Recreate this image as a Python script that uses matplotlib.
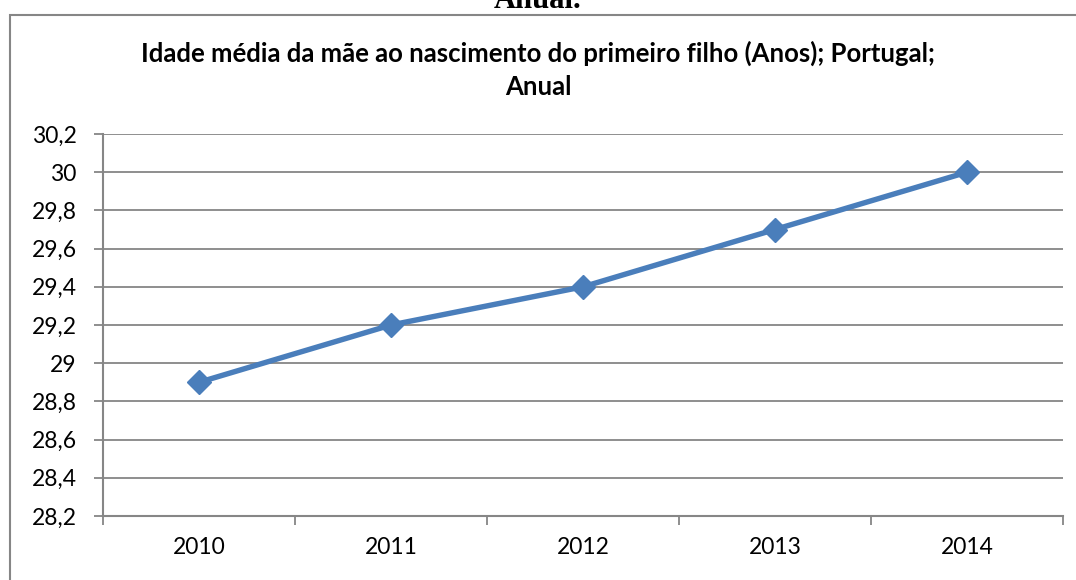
import matplotlib.pyplot as plt
from matplotlib.patches import Rectangle
from matplotlib.ticker import FuncFormatter

anos = ['2010', '2011', '2012', '2013', '2014']
idade = [28.9, 29.2, 29.4, 29.7, 30.0]
y_ticks = [28.2, 28.4, 28.6, 28.8, 29.0, 29.2, 29.4, 29.6, 29.8, 30.0, 30.2]

cinza = '#868686'
azul = '#4A7EBB'

fig = plt.figure(figsize=(10.76, 5.8), dpi=100)
ax = fig.add_axes([103 / 1076, 1 - 516 / 580, 960 / 1076, 382 / 580])

# moldura do gráfico (cortada à direita e em baixo)
fig.patches.append(Rectangle((10 / 1076, -0.05), 1.0, 1 - 15 / 580 + 0.05,
                             transform=fig.transFigure, fill=False,
                             edgecolor=cinza, lw=1.5))

# resto do título do documento, cortado no topo
fig.text(0.5, 1 - 8 / 580, 'Anual.', ha='center', va='baseline',
         fontsize=22, fontweight='bold', family='Liberation Serif')

x = list(range(len(anos)))
ax.plot(x, idade, color=azul, lw=3.9, marker='D', markersize=12,
        markerfacecolor=azul, markeredgecolor=azul, solid_capstyle='round')

ax.set_xlim(-0.5, len(anos) - 0.5)
ax.set_ylim(28.2, 30.2)
ax.set_yticks(y_ticks)
ax.yaxis.set_major_formatter(FuncFormatter(lambda v, p: f'{v:g}'.replace('.', ',')))
ax.grid(axis='y', color=cinza, lw=1.3)
ax.set_axisbelow(True)

ax.set_xticks([i - 0.5 for i in range(len(anos) + 1)])
ax.set_xticklabels([])
ax.set_xticks(x, minor=True)
ax.set_xticklabels(anos, minor=True)
ax.tick_params(axis='x', which='major', length=6.5, width=1.3, color=cinza, direction='out')
ax.tick_params(axis='x', which='minor', length=0, pad=15, labelsize=16.5)
ax.tick_params(axis='y', length=6.5, width=1.3, color=cinza, pad=12.5, labelsize=16.5)

for lab in ax.get_xticklabels(minor=True) + ax.get_yticklabels():
    lab.set_family('Lato')

for s in ['top', 'right']:
    ax.spines[s].set_visible(False)
for s in ['left', 'bottom']:
    ax.spines[s].set_color(cinza)
    ax.spines[s].set_linewidth(1.5)

fig.text(0.5, 1 - 62 / 580,
         'Idade média da mãe ao nascimento do primeiro filho (Anos); Portugal;',
         ha='center', va='baseline', fontsize=18.5, fontweight='bold', family='Lato')
fig.text(0.5, 1 - 95 / 580, 'Anual', ha='center', va='baseline',
         fontsize=18.5, fontweight='bold', family='Lato')

fig.savefig('out.png', dpi=100)
